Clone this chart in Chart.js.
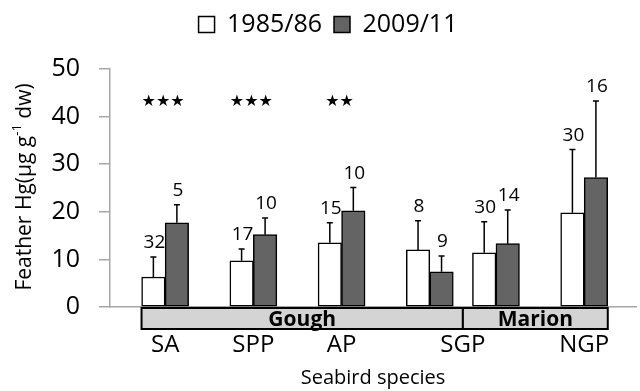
<!DOCTYPE html>
<html>
<head>
<meta charset="utf-8">
<script src="https://cdn.jsdelivr.net/npm/chart.js@4"></script>
<style>
  html, body { margin: 0; padding: 0; background: #fff; }
  #wrap { width: 640px; height: 391px; position: relative; }
</style>
</head>
<body>
<div id="wrap"><canvas id="hgChart"></canvas></div>
<script>
// ---------------------------------------------------------------
// Data (feather Hg, µg g-1 dw, mean + SD)
// ---------------------------------------------------------------
const species   = ['SA', 'SPP', 'AP', 'SGP', 'SGP', 'NGP'];
const slots     = [0, 4, 8, 12, 15, 19];          // x position of each species pair
const tickAt    = [0, 4, 8, 13.5, 19];
const tickNames = ['SA', 'SPP', 'AP', 'SGP', 'NGP'];

const mean8586 = [6.3, 9.7, 13.5, 12.0, 11.4, 19.8];
const sd8586   = [4.2, 2.5, 4.2, 6.1, 6.5, 13.3];
const n8586    = [32, 17, 15, 8, 30, 30];

const mean0911 = [17.7, 15.2, 20.2, 7.4, 13.3, 27.2];
const sd0911   = [3.8, 3.5, 4.9, 3.3, 7.1, 16.1];
const n0911    = [5, 10, 10, 9, 14, 16];

const stars    = ['★★★', '★★★', '★★', '', '', ''];
const starAt   = 43.2;

const islands    = ['Gough', 'Marion'];
const islandFrom = [-1.07, 13.5];
const islandTo   = [13.5, 20.07];

const yTicks = [0, 10, 20, 30, 40, 50];

const FONT = "'Open Sans', sans-serif";

// ---------------------------------------------------------------
// plugins: legend height, error bars + n, stars, island band, y title
// ---------------------------------------------------------------
const legendHeight = {
    id: 'legendHeight',
    beforeLayout(chart) {
        const lg = chart.legend;
        if (!lg || lg._patched) return;
        const fit = lg.fit;
        lg.fit = function () { fit.call(this); this.height = 69; };
        lg._patched = true;
    }
};

const errorBars = {
    id: 'errorBars',
    afterDatasetsDraw(chart) {
        const { ctx, scales: { y } } = chart;
        ctx.save();
        chart.data.datasets.forEach((ds, di) => {
            const meta = chart.getDatasetMeta(di);
            meta.data.forEach((bar, i) => {
                const m = ds.data[i].y, sd = ds.sd[i];
                const yTop = y.getPixelForValue(m + sd), yBar = y.getPixelForValue(m);
                ctx.strokeStyle = '#000'; ctx.lineWidth = 1.5;
                ctx.beginPath();
                ctx.moveTo(bar.x, yBar); ctx.lineTo(bar.x, yTop);
                ctx.moveTo(bar.x - 3, yTop); ctx.lineTo(bar.x + 3, yTop);
                ctx.stroke();
                ctx.fillStyle = '#000';
                ctx.font = `19px ${FONT}`;
                ctx.textAlign = 'center'; ctx.textBaseline = 'middle';
                ctx.fillText(String(ds.n[i]), bar.x + 1, yTop - 14);
            });
        });
        ctx.restore();
    }
};

const extras = {
    id: 'extras',
    afterDraw(chart) {
        const { ctx, chartArea, scales: { x, y } } = chart;
        ctx.save();
        // significance stars
        ctx.fillStyle = '#000';
        ctx.font = "16px 'DejaVu Sans'";
        ctx.textAlign = 'center'; ctx.textBaseline = 'middle';
        stars.forEach((s, i) => {
            if (s) ctx.fillText(s, x.getPixelForValue(slots[i]) - 2, y.getPixelForValue(starAt));
        });
        // island band under the axis
        const top = chartArea.bottom + 1, h = 21;
        islands.forEach((name, i) => {
            const x0 = x.getPixelForValue(islandFrom[i]), x1 = x.getPixelForValue(islandTo[i]);
            ctx.fillStyle = '#d4d4d4';
            ctx.fillRect(x0, top, x1 - x0, h);
            ctx.strokeStyle = '#000'; ctx.lineWidth = 2;
            ctx.strokeRect(x0, top, x1 - x0, h);
            ctx.fillStyle = '#000';
            ctx.font = `bold 21px ${FONT}`;
            ctx.textAlign = 'center'; ctx.textBaseline = 'alphabetic';
            ctx.fillText(name, (x0 + x1) / 2, top + 18);
        });
        // y axis title with superscript
        const main = `21px ${FONT}`, sup = `13px ${FONT}`;
        const parts = [['Feather Hg(µg g', main, 0], ['-1', sup, -8], [' dw)', main, 0]];
        let total = 0;
        parts.forEach(p => { ctx.font = p[1]; total += ctx.measureText(p[0]).width; });
        ctx.translate(25, (chartArea.top + chartArea.bottom) / 2 - 1);
        ctx.rotate(-Math.PI / 2);
        ctx.textAlign = 'left'; ctx.textBaseline = 'middle';
        let cx = -total / 2;
        parts.forEach(p => {
            ctx.font = p[1];
            ctx.fillText(p[0], cx, p[2]);
            cx += ctx.measureText(p[0]).width;
        });
        ctx.restore();
    }
};

// ---------------------------------------------------------------
// chart
// ---------------------------------------------------------------
new Chart(document.getElementById('hgChart'), {
    type: 'bar',
    data: {
        datasets: [
            { label: '1985/86', data: slots.map((s, i) => ({ x: s, y: mean8586[i] })), sd: sd8586, n: n8586,
              backgroundColor: '#ffffff', borderColor: '#000', borderWidth: 1.5, barThickness: 23.5, borderSkipped: false },
            { label: '2009/11', data: slots.map((s, i) => ({ x: s, y: mean0911[i] })), sd: sd0911, n: n0911,
              backgroundColor: '#646464', borderColor: '#000', borderWidth: 1.5, barThickness: 23.5, borderSkipped: false }
        ]
    },
    options: {
        responsive: true,
        maintainAspectRatio: false,
        animation: false,
        layout: { padding: { left: 20, right: 4, top: 0, bottom: 0 } },
        scales: {
            x: {
                type: 'linear', min: -2.5, max: 21.35, offset: false,
                grid: { display: false, drawTicks: false },
                border: { color: '#a6a6a6', width: 1.5 },
                afterBuildTicks: s => { s.ticks = tickAt.map(v => ({ value: v })); },
                afterFit: s => { s.height = 84; },
                ticks: {
                    autoSkip: false, maxRotation: 0, padding: 24, color: '#000',
                    font: { family: FONT, size: 24 },
                    callback: v => tickNames[tickAt.indexOf(v)] ?? ''
                },
                title: { display: true, text: 'Seabird species', color: '#000',
                         font: { family: FONT, size: 20 }, padding: { top: 0, bottom: 1 } }
            },
            y: {
                min: 0, max: 50,
                afterBuildTicks: s => { s.ticks = yTicks.map(v => ({ value: v })); },
                afterFit: s => { s.width = 90; },
                grid: { drawOnChartArea: false, tickLength: 11, color: '#a6a6a6', lineWidth: 1.5 },
                border: { color: '#a6a6a6', width: 1.5 },
                ticks: { padding: 19, color: '#000', font: { family: FONT, size: 25 } }
            }
        },
        plugins: {
            legend: {
                position: 'top',
                labels: { color: '#000', boxWidth: 16, boxHeight: 16, padding: 12,
                          font: { family: FONT, size: 25 } }
            },
            tooltip: { enabled: false }
        }
    },
    plugins: [legendHeight, errorBars, extras]
});
</script>
</body>
</html>
